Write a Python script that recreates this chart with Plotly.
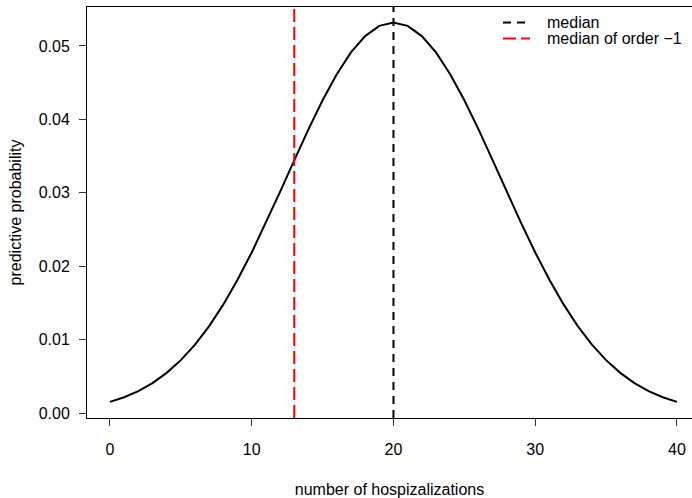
import plotly.graph_objects as go

# number of hospitalizations (support of predictive distribution)
counts = list(range(0, 41))
# predictive probabilities
pred_prob = [
    0.00152, 0.00215, 0.00299, 0.00408, 0.00547, 0.00720, 0.00932, 0.01184,
    0.01479, 0.01815, 0.02187, 0.02590, 0.03012, 0.03441, 0.03863, 0.04260,
    0.04615, 0.04911, 0.05134, 0.05273, 0.05320, 0.05273, 0.05134, 0.04911,
    0.04615, 0.04260, 0.03863, 0.03441, 0.03012, 0.02590, 0.02187, 0.01815,
    0.01479, 0.01184, 0.00932, 0.00720, 0.00547, 0.00408, 0.00299, 0.00215,
    0.00152,
]
median_value = 20
median_order_m1 = 13
legend_labels = ["median", "median of order \u22121"]
legend_colors = ["black", "#ff0000"]
x_ticks = [0, 10, 20, 30, 40]
y_ticks = [0.00, 0.01, 0.02, 0.03, 0.04, 0.05]
y_tick_text = ["0.00", "0.01", "0.02", "0.03", "0.04", "0.05"]

x_range = [-1.62, 41.06]
y_range = [-0.00068, 0.0553]

FONT = "Liberation Sans, Arial, Helvetica, sans-serif"
BLACK_DASH = "8px,6px"
RED_DASH = "13px,5px"
dashes = [BLACK_DASH, RED_DASH]

fig = go.Figure()
fig.add_trace(go.Scatter(
    x=counts, y=pred_prob, mode="lines",
    line=dict(color="black", width=2), showlegend=False,
))
fig.add_trace(go.Scatter(
    x=[median_value, median_value], y=y_range, mode="lines",
    line=dict(color=legend_colors[0], width=2, dash=BLACK_DASH),
    name=legend_labels[0], showlegend=False,
))
fig.add_trace(go.Scatter(
    x=[median_order_m1, median_order_m1], y=y_range, mode="lines",
    line=dict(color=legend_colors[1], width=2, dash=RED_DASH),
    name=legend_labels[1], showlegend=False,
))

# legend (R-style, borderless, compact rows)
row_y = [0.9622, 0.9233]
for lab, col, dsh, yy in zip(legend_labels, legend_colors, dashes, row_y):
    fig.add_shape(type="line", xref="paper", yref="paper",
                  x0=0.6876, x1=0.7322, y0=yy, y1=yy,
                  line=dict(color=col, width=2, dash=dsh))
    fig.add_annotation(xref="paper", yref="paper", x=0.7580, y=yy,
                       xanchor="left", yanchor="middle", showarrow=False,
                       height=15, borderpad=0, valign="middle",
                       text=lab, font=dict(family=FONT, size=16, color="black"))

fig.update_layout(
    width=692, height=498,
    margin=dict(l=87, r=0, t=7, b=80),
    paper_bgcolor="white", plot_bgcolor="white",
    font=dict(family=FONT, size=16, color="black"),
    showlegend=False,
    xaxis=dict(
        range=x_range, tickvals=x_ticks, ticks="outside", ticklen=7,
        tickcolor="#333333", tickwidth=1, showgrid=False, zeroline=False,
        showline=True, linecolor="black", linewidth=1, mirror=True,
        ticklabelstandoff=10, automargin=False,
        title=dict(text="number of hospizalizations", standoff=26,
                   font=dict(family=FONT, size=16)),
    ),
    yaxis=dict(
        range=y_range, tickvals=y_ticks, ticktext=y_tick_text,
        ticks="outside", ticklen=7, tickcolor="#333333", tickwidth=1,
        showgrid=False, zeroline=False, showline=True, linecolor="black",
        linewidth=1, ticklabelstandoff=6, automargin=False,
        title=dict(text="predictive probability", standoff=13,
                   font=dict(family=FONT, size=16)),
    ),
)

fig.write_html(
    "out.html",
    config={"displayModeBar": False},
    post_script="document.body.style.margin='0px';document.body.style.overflow='hidden';",
)
